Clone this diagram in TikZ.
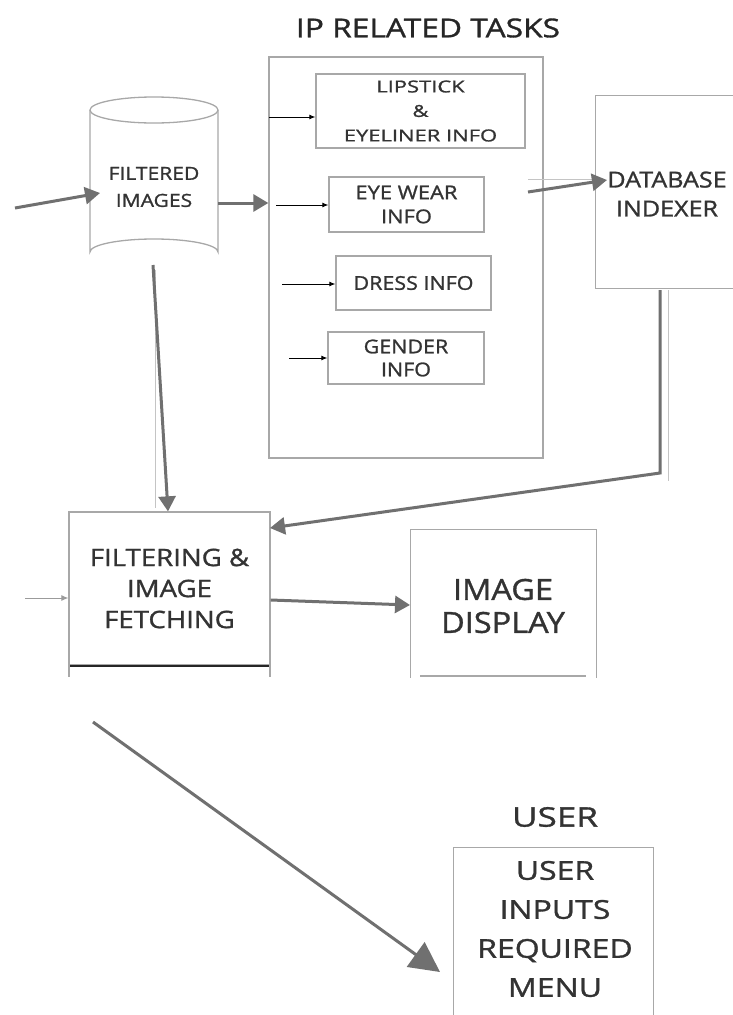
\documentclass[tikz,border=0pt]{standalone}
\usepackage{fontspec}
\setmainfont{Open Sans}
\newcommand\myft[3]{\fontsize{#1}{#2}\selectfont\addfontfeatures{FakeStretch=#3,FakeBold=1.2}}
\usetikzlibrary{arrows.meta}
\definecolor{boxgray}{HTML}{A8A8A8}
\definecolor{txt}{HTML}{333333}
\definecolor{arr}{HTML}{707070}
\definecolor{faint}{HTML}{C4C4C4}
\begin{document}
\begin{tikzpicture}[x=1pt,y=-1pt,
  box/.style={draw=boxgray,line width=1.3pt,rectangle,align=center,text=txt,inner sep=0pt},
  fat/.style={draw=arr,line width=3pt,-{Triangle[length=15pt,width=17pt]}},
  thinarr/.style={draw=black,line width=0.9pt,-{Latex[length=6pt,width=5pt]}},
  faintline/.style={draw=faint,line width=1pt},
  lbl/.style={text=txt,align=center,inner sep=0pt}]
\useasboundingbox (0,0) rectangle (732,1015);
\fill[white] (0,0) rectangle (732,1015);

% title
\node[lbl,text=black!85,font=\myft{26}{30}{1.22}] (title) at (428,28) {IP RELATED TASKS};

% IP box and sub boxes
\node[box,minimum width=274pt,minimum height=401pt] (ip) at (406,257.5) {};
\node[box,minimum width=209pt,minimum height=74pt,font=\myft{16.5}{24.5}{1.33}] (lip) at (420.5,111)
  {LIPSTICK\\ \&\\ EYELINER INFO};
\node[box,minimum width=155pt,minimum height=55pt,font=\myft{19}{24}{1.15}] (eye) at (406.5,204.5)
  {EYE WEAR\\ INFO};
\node[box,minimum width=155pt,minimum height=54pt,font=\myft{19}{22}{1.13}] (dress) at (413.5,283)
  {DRESS INFO};
\node[box,minimum width=156pt,minimum height=52pt,font=\myft{19}{23}{1.13}] (gender) at (406,358)
  {GENDER\\ INFO};

\coordinate (s1) at (269,117);
\coordinate (s2) at (276,205);
\coordinate (s3) at (282,284);
\coordinate (s4) at (289,358);
\draw[thinarr] (s1) -- (lip.west |- s1);
\draw[thinarr] (s2) -- (eye.west |- s2);
\draw[thinarr] (s3) -- (dress.west |- s3);
\draw[thinarr] (s4) -- (gender.west |- s4);

% cylinder
\node[lbl,minimum width=128pt,minimum height=168pt,font=\myft{18}{27}{1.17}] (cyl) at (154,187)
  {FILTERED\\ IMAGES};
\draw[boxgray,line width=1.3pt] (90,110) -- (90,252) arc[start angle=180,end angle=360,x radius=64,y radius=13]
  -- (218,110);
\draw[boxgray,line width=1.3pt] (154,110) ellipse[x radius=64,y radius=13];

% database indexer
\node[box,minimum width=150pt,minimum height=193pt,anchor=north west] (db) at (595,95) {};
\node[lbl,font=\myft{22}{29}{1.14}] (dbt) at (667,194) {DATABASE\\ INDEXER};

% filtering box
\node[box,minimum width=201pt,minimum height=153pt,font=\myft{24}{31}{1.15}] (filt) at (169.5,588.5)
  {FILTERING \&\\ IMAGE\\ FETCHING};
\draw[black!85,line width=1.6pt] (69,666) -- (271,666);
\draw[boxgray,line width=1.3pt] (69,665) -- (69,677) (270,665) -- (270,677);

% image display
\node[box,minimum width=186pt,minimum height=160pt,anchor=north west] (disp) at (410,529) {};
\node[lbl,font=\myft{29}{33}{1.12}] (dispt) at (503,606) {IMAGE\\ DISPLAY};
\fill[white] (405,678) rectangle (600,700);
\draw[boxgray,line width=1.2pt] (420,676) -- (586,676);

% user
\node[lbl,font=\myft{27}{30}{1.3}] (userlbl) at (555,817) {USER};
\node[box,minimum width=200pt,minimum height=190pt,anchor=north west] (user) at (453,847) {};
\node[lbl,font=\myft{26}{39}{1.23}] (usert) at (555,929) {USER\\ INPUTS\\ REQUIRED\\ MENU};

% connectors
\coordinate (in1) at (15,208);
\coordinate (cylin) at (100,193);
\draw[fat] (in1) -- (cylin);
\draw[fat] (cyl.east |- 0,203) -- (ip.west |- 0,203);

\coordinate (eyeout) at (528,192);
\coordinate (dbin) at (607,180);
\draw[faintline] (528,179) -- (600,179);
\draw[fat] (eyeout) -- (dbin);

\coordinate (dbout) at (660,290);
\coordinate (dbbend) at (660,473);
\coordinate (filtin) at (270,528);
\draw[faintline] (668,290) -- (668,481);
\draw[fat] (dbout) -- (dbbend) -- (filtin);

\coordinate (cylout) at (153,265);
\draw[faintline] (155,270) -- (155,508);
\draw[fat] (cylout) -- (filt.north -| 168,0);

\coordinate (in2) at (25,598);
\draw[draw=arr!70,line width=1pt,-{Latex[length=7pt,width=6pt]}] (in2) -- (filt.west |- in2);

\draw[fat] (filt.east |- 0,600) -- (disp.west |- 0,605);

\coordinate (bigstart) at (93,722);
\coordinate (bigend) at (440,972);
\draw[draw=arr,line width=3pt,-{Triangle[length=30pt,width=30pt]}] (bigstart) -- (bigend);
\end{tikzpicture}
\end{document}
